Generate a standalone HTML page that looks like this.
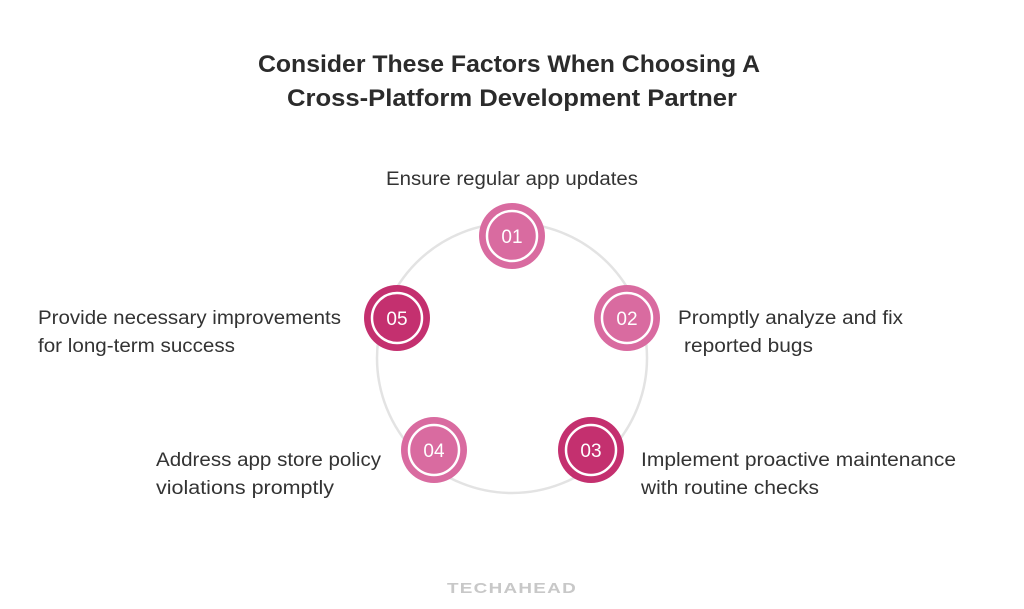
<!DOCTYPE html>
<html><head><meta charset="utf-8"><style>
html,body{margin:0;padding:0;background:#fff}
svg{display:block}
text{font-family:"Liberation Sans",sans-serif}
.t{font-size:24px;font-weight:bold;fill:#2b2b2b}
.l{font-size:19px;fill:#333}
.n{font-size:19px;fill:#fff}
</style></head><body>
<svg width="1024" height="609" viewBox="0 0 1024 609">
<text class="t" x="258" y="72" textLength="502" lengthAdjust="spacingAndGlyphs">Consider These Factors When Choosing A</text>
<text class="t" x="287" y="106" textLength="450" lengthAdjust="spacingAndGlyphs">Cross-Platform Development Partner</text>
<circle cx="512" cy="358" r="135" fill="none" stroke="#e3e3e3" stroke-width="2.5"/>
<g>
<circle cx="512" cy="236" r="33" fill="#d96ba0"/><circle cx="512" cy="236" r="25" fill="none" stroke="#fff" stroke-width="2.5"/>
<text class="n" x="512" y="243" text-anchor="middle">01</text>
<circle cx="627" cy="318" r="33" fill="#d96ba0"/><circle cx="627" cy="318" r="25" fill="none" stroke="#fff" stroke-width="2.5"/>
<text class="n" x="627" y="325" text-anchor="middle">02</text>
<circle cx="591" cy="450" r="33" fill="#c4306f"/><circle cx="591" cy="450" r="25" fill="none" stroke="#fff" stroke-width="2.5"/>
<text class="n" x="591" y="457" text-anchor="middle">03</text>
<circle cx="434" cy="450" r="33" fill="#d96ba0"/><circle cx="434" cy="450" r="25" fill="none" stroke="#fff" stroke-width="2.5"/>
<text class="n" x="434" y="457" text-anchor="middle">04</text>
<circle cx="397" cy="318" r="33" fill="#c4306f"/><circle cx="397" cy="318" r="25" fill="none" stroke="#fff" stroke-width="2.5"/>
<text class="n" x="397" y="325" text-anchor="middle">05</text>
</g>
<text class="l" x="386" y="185" textLength="252" lengthAdjust="spacingAndGlyphs">Ensure regular app updates</text>
<text class="l" x="678" y="324" textLength="225" lengthAdjust="spacingAndGlyphs">Promptly analyze and fix</text>
<text class="l" x="684" y="352" textLength="129" lengthAdjust="spacingAndGlyphs">reported bugs</text>
<text class="l" x="641" y="466" textLength="315" lengthAdjust="spacingAndGlyphs">Implement proactive maintenance</text>
<text class="l" x="641" y="494" textLength="178" lengthAdjust="spacingAndGlyphs">with routine checks</text>
<text class="l" x="156" y="466" textLength="225" lengthAdjust="spacingAndGlyphs">Address app store policy</text>
<text class="l" x="156" y="494" textLength="178" lengthAdjust="spacingAndGlyphs">violations promptly</text>
<text class="l" x="38" y="324" textLength="303" lengthAdjust="spacingAndGlyphs">Provide necessary improvements</text>
<text class="l" x="38" y="352" textLength="197" lengthAdjust="spacingAndGlyphs">for long-term success</text>
<text x="447" y="593" font-size="15" font-weight="bold" fill="#c8c8c8" textLength="130" lengthAdjust="spacingAndGlyphs" letter-spacing="1">TECHAHEAD</text>
</svg>
</body></html>
